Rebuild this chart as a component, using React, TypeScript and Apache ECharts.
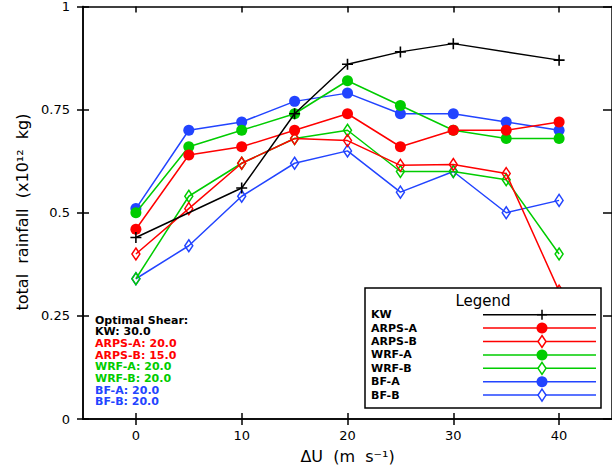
import React, { useEffect, useRef } from "react";
import * as echarts from "echarts";

const seriesNames = ["KW", "ARPS-A", "ARPS-B", "WRF-A", "WRF-B", "BF-A", "BF-B"];
const kwShear = [0, 10, 15, 20, 25, 30, 40];
const modelShear = [0, 5, 10, 15, 20, 25, 30, 35, 40];
const kwRain = [0.44, 0.56, 0.74, 0.86, 0.89, 0.91, 0.87];
const arpsARain = [0.46, 0.64, 0.66, 0.70, 0.74, 0.66, 0.70, 0.70, 0.72];
const arpsBRain = [0.40, 0.51, 0.62, 0.68, 0.675, 0.615, 0.617, 0.595, 0.31];
const wrfARain = [0.50, 0.66, 0.70, 0.74, 0.82, 0.76, 0.70, 0.68, 0.68];
const wrfBRain = [0.34, 0.54, 0.62, 0.68, 0.70, 0.60, 0.60, 0.58, 0.40];
const bfARain = [0.51, 0.70, 0.72, 0.77, 0.79, 0.74, 0.74, 0.72, 0.70];
const bfBRain = [0.34, 0.42, 0.54, 0.62, 0.65, 0.55, 0.60, 0.50, 0.53];
const optimalShear = ["30.0", "20.0", "15.0", "20.0", "20.0", "20.0", "20.0"];
const xTickValues = [0, 10, 20, 30, 40];

const BLACK = "#000000";
const RED = "#ff0000";
const GREEN = "#00cc00";
const BLUE = "#2244ff";
const colors = [BLACK, RED, RED, GREEN, GREEN, BLUE, BLUE];
const markers = ["plus", "circle", "diamond", "circle", "diamond", "circle", "diamond"];
const FONT = "DejaVu Sans";

const PLUS_PATH = "path://M4.5,0h1.5v4.5h4.5v1.5h-4.5v4.5h-1.5v-4.5h-4.5v-1.5h4.5z";

function buildSeries() {
  const valueSets = [kwRain, arpsARain, arpsBRain, wrfARain, wrfBRain, bfARain, bfBRain];
  return seriesNames.map((name, i) => {
    const xs = i === 0 ? kwShear : modelShear;
    const data = valueSets[i].map((v, j) => [xs[j], v]);
    const c = colors[i];
    const m = markers[i];
    let symbol: string = "circle";
    let symbolSize: any = 11;
    let itemStyle: any = { color: c };
    if (m === "plus") {
      symbol = PLUS_PATH;
      symbolSize = 11;
      itemStyle = { color: c };
    } else if (m === "diamond") {
      symbol = "diamond";
      symbolSize = [8, 12];
      itemStyle = { color: "rgba(255,255,255,0)", borderColor: c, borderWidth: 1.5 };
    }
    return {
      name,
      type: "line",
      data,
      symbol,
      symbolSize,
      showSymbol: true,
      itemStyle,
      lineStyle: { color: c, width: 1.5 },
      xAxisIndex: 0,
      yAxisIndex: 0,
      z: 2 + (7 - i),
    };
  });
}

function buildGraphics() {
  const els: any[] = [];
  els.push({
    type: "text",
    x: 22,
    y: 212,
    rotation: Math.PI / 2,
    style: {
      text: "total  rainfall  (x10¹²  kg)",
      font: `16px "${FONT}"`,
      fill: BLACK,
      align: "center",
      verticalAlign: "middle",
    },
  });
  const annX = 95;
  const annY0 = 320;
  const annStep = 11.7;
  els.push({
    type: "text",
    x: annX,
    y: annY0,
    style: { text: "Optimal Shear:", font: `bold 11px "${FONT}"`, fill: BLACK, verticalAlign: "middle" },
  });
  seriesNames.forEach((n, i) => {
    els.push({
      type: "text",
      x: annX,
      y: annY0 + annStep * (i + 1),
      style: {
        text: `${n}: ${optimalShear[i]}`,
        font: `bold 11px "${FONT}"`,
        fill: colors[i],
        verticalAlign: "middle",
      },
    });
  });
  const lx = 365, ly = 288, lw = 236, lh = 120;
  const Z = 100;
  els.push({
    type: "rect",
    z: Z,
    shape: { x: lx, y: ly, width: lw, height: lh },
    style: { fill: "#ffffff", stroke: BLACK, lineWidth: 1.5 },
  });
  els.push({
    type: "text",
    z: Z + 1,
    x: 483,
    y: 301,
    style: { text: "Legend", font: `15px "${FONT}"`, fill: BLACK, align: "center", verticalAlign: "middle" },
  });
  const rowY0 = 314.7;
  const rowStep = 13.4;
  const mx = 542;
  seriesNames.forEach((n, i) => {
    const y = rowY0 + rowStep * i;
    const c = colors[i];
    els.push({
      type: "text",
      z: Z + 1,
      x: 371,
      y,
      style: { text: n, font: `bold 11px "${FONT}"`, fill: BLACK, verticalAlign: "middle" },
    });
    els.push({
      type: "line",
      z: Z + 1,
      shape: { x1: 483, y1: y, x2: 596, y2: y },
      style: { stroke: c, lineWidth: 1.5 },
    });
    if (markers[i] === "circle") {
      els.push({ type: "circle", z: Z + 2, shape: { cx: mx, cy: y, r: 5.5 }, style: { fill: c } });
    } else if (markers[i] === "diamond") {
      els.push({
        type: "polygon",
        z: Z + 2,
        shape: { points: [[mx, y - 6], [mx + 4, y], [mx, y + 6], [mx - 4, y]] },
        style: { fill: "#ffffff", stroke: c, lineWidth: 1.5 },
      });
    } else {
      els.push({ type: "line", z: Z + 2, shape: { x1: mx - 5, y1: y, x2: mx + 5, y2: y }, style: { stroke: c, lineWidth: 1.5 } });
      els.push({ type: "line", z: Z + 2, shape: { x1: mx, y1: y - 5, x2: mx, y2: y + 5 }, style: { stroke: c, lineWidth: 1.5 } });
    }
  });
  return els;
}

export default function App() {
  const ref = useRef<HTMLDivElement>(null);
  useEffect(() => {
    if (!ref.current) return;
    const chart = echarts.init(ref.current, null, { renderer: "svg" });
    const axisLine = { show: true, onZero: false, lineStyle: { color: BLACK, width: 1.5 } };
    const tickStyle = { color: BLACK, width: 1.5 };
    const xBase = { type: "value", min: -5, max: 45, splitLine: { show: false } };
    const yBase = { type: "value", min: 0, max: 1, interval: 0.25, splitLine: { show: false } };
    chart.setOption({
      animation: false,
      backgroundColor: "#ffffff",
      grid: { left: 83, top: 5, right: -5, bottom: 49 },
      xAxis: [
        {
          ...xBase,
          position: "bottom",
          axisLine,
          axisTick: { show: true, inside: false, length: 6, customValues: xTickValues, lineStyle: tickStyle },
          axisLabel: { show: true, customValues: xTickValues, color: BLACK, fontFamily: FONT, fontSize: 13, margin: 10 },
          name: "ΔU  (m  s⁻¹)",
          nameLocation: "middle",
          nameGap: 29,
          nameTextStyle: { color: BLACK, fontFamily: FONT, fontSize: 16 },
        },
        {
          ...xBase,
          position: "bottom",
          axisLine,
          axisTick: { show: true, inside: true, length: 6, customValues: xTickValues, lineStyle: tickStyle },
          axisLabel: { show: false },
        },
        {
          ...xBase,
          position: "top",
          axisLine,
          axisTick: { show: true, inside: true, length: 6, customValues: xTickValues, lineStyle: tickStyle },
          axisLabel: { show: false },
        },
      ],
      yAxis: [
        {
          ...yBase,
          position: "left",
          axisLine,
          axisTick: { show: true, inside: false, length: 6, lineStyle: tickStyle },
          axisLabel: { show: true, color: BLACK, fontFamily: FONT, fontSize: 13, margin: 13 },
        },
        {
          ...yBase,
          position: "left",
          axisLine,
          axisTick: { show: true, inside: true, length: 6, lineStyle: tickStyle },
          axisLabel: { show: false },
        },
        {
          ...yBase,
          position: "right",
          axisLine,
          axisTick: { show: true, inside: true, length: 9, lineStyle: tickStyle },
          axisLabel: { show: false },
        },
      ],
      series: buildSeries(),
      graphic: buildGraphics(),
    });
    return () => chart.dispose();
  }, []);
  return (
    <div
      ref={ref}
      style={{ position: "fixed", left: 0, top: 0, width: 612, height: 469, background: "#fff" }}
    />
  );
}
